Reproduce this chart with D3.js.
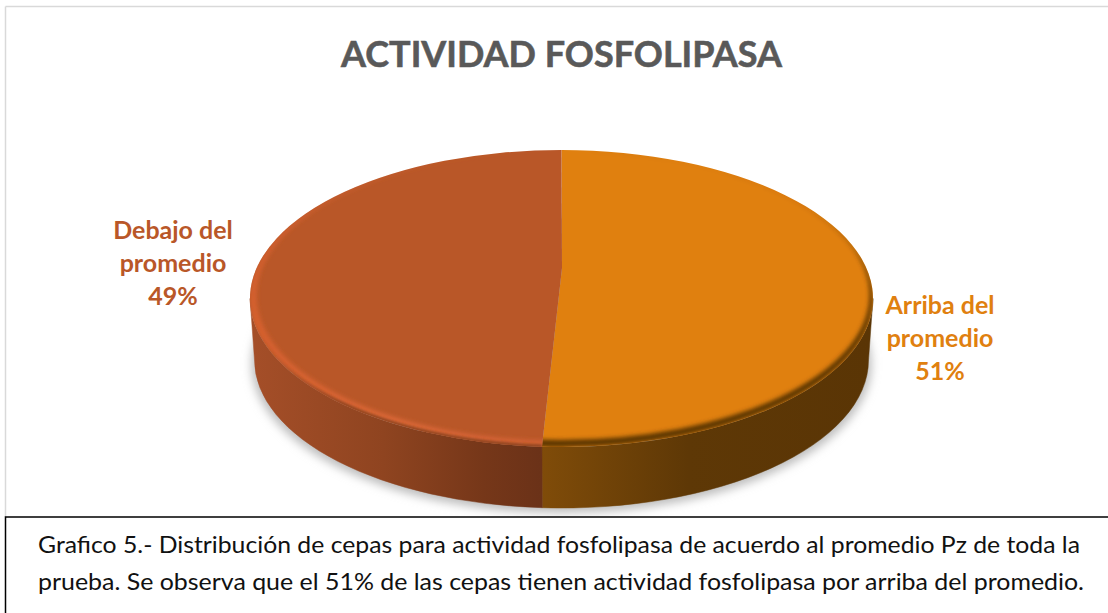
<!DOCTYPE html>
<html>
<head>
  <meta charset="utf-8">
  <title>Actividad fosfolipasa</title>
  <script src="https://d3js.org/d3.v7.min.js"></script>
  <style>
    html, body { margin: 0; padding: 0; background: #fff; overflow: hidden; }
    svg { display: block; }
    text { font-family: Lato, "Open Sans", sans-serif; }
  </style>
</head>
<body>
  <svg id="chart" width="1108" height="613"></svg>
  <script>
    // values
    const categories = ["Arriba del promedio", "Debajo del promedio"];
    const percents = [51, 49];
    const titleText = "ACTIVIDAD FOSFOLIPASA";
    const captionLines = [
      "Grafico 5.- Distribución de cepas para actividad fosfolipasa de acuerdo al promedio Pz de toda la",
      "prueba. Se observa que el 51% de las cepas tienen actividad fosfolipasa por arriba del promedio."
    ];
    const sliceColors = ["#e0800f", "#b95728"];

    const svg = d3.select("#chart");
    const defs = svg.append("defs");

    // top face and bottom edge of the disc
    const top_ = { cx: 561.5, cy: 298.5, rx: 311.5, ry: 148.5 };
    const bottom = { cx: 561.5, cy: 360, rx: 307, ry: 148 };
    const apex = [562, 268]; // the perspective moves the visual centre up

    const pie = d3.pie().sort(null).value(d => d);
    const arcs = pie(percents);

    const pt = (e, a) => [e.cx + e.rx * Math.sin(a), e.cy - e.ry * Math.cos(a)];

    function arcTo(e, a0, a1) {
      const p = pt(e, a1);
      const large = Math.abs(a1 - a0) > Math.PI ? 1 : 0;
      const sweep = a1 > a0 ? 1 : 0;
      return `A${e.rx},${e.ry} 0 ${large} ${sweep} ${p[0]},${p[1]}`;
    }
    const facePath = (a0, a1) => `M${apex}L${pt(top_, a0)}${arcTo(top_, a0, a1)}Z`;
    const edgePath = (e, a0, a1) => `M${pt(e, a0)}${arcTo(e, a0, a1)}`;
    const wallPath = (a0, a1) =>
      `M${pt(top_, a0)}${arcTo(top_, a0, a1)}L${pt(bottom, a1)}${arcTo(bottom, a1, a0)}Z`;

    // whole ellipse, for the ring between the edge and the flat part of the face
    const ringOf = e =>
      `M${e.cx - e.rx},${e.cy}A${e.rx},${e.ry} 0 1 1 ${e.cx + e.rx},${e.cy}A${e.rx},${e.ry} 0 1 1 ${e.cx - e.rx},${e.cy}Z`;

    function gradient(id, stops, x1, x2) {
      const g = defs.append("linearGradient").attr("id", id)
        .attr("gradientUnits", "userSpaceOnUse")
        .attr("x1", x1).attr("x2", x2).attr("y1", 0).attr("y2", 0);
      g.selectAll("stop").data(stops).join("stop")
        .attr("offset", d => d[0]).attr("stop-color", d => d[1])
        .attr("stop-opacity", d => d.length > 2 ? d[2] : 1);
    }
    function blur(id, sd) {
      defs.append("filter").attr("id", id)
        .attr("x", "-10%").attr("y", "-10%").attr("width", "120%").attr("height", "120%")
        .append("feGaussianBlur").attr("stdDeviation", sd);
    }
    blur("soft", 2);
    blur("softer", 5);
    blur("tiny", 1.2);

    gradient("wall0", [[0, "#804c09"], [0.45, "#5e3806"], [1, "#5a3505"]], 540, 870);
    gradient("wall1", [[0, "#a44e28"], [0.45, "#8f4420"], [0.8, "#763719"], [1, "#6b3218"]], 255, 540);
    gradient("rim1", [[0, "#d5602e"], [0.5, "#dd6838"], [1, "#d46236"]], 250, 540);
    gradient("rimDark", [[0, "#8f4420", 0], [0.3, "#8f4420", 0.85], [1, "#8f4420", 0.85]], 262, 540);

    arcs.forEach((d, i) => {
      defs.append("clipPath").attr("id", "face" + i)
        .append("path").attr("d", facePath(d.startAngle, d.endAngle));
    });

    // shadow under the disc
    svg.append("ellipse")
      .attr("cx", bottom.cx).attr("cy", bottom.cy + 4)
      .attr("rx", bottom.rx + 3).attr("ry", bottom.ry + 1)
      .attr("fill", "#bdbdbd").attr("filter", "url(#softer)");

    // side walls, only the front half shows
    const frontStart = Math.PI / 2, frontEnd = Math.PI * 1.5;
    svg.append("g").selectAll("path").data(arcs).join("path")
      .attr("d", d => wallPath(Math.max(d.startAngle, frontStart), Math.min(d.endAngle, frontEnd)))
      .attr("fill", (d, i) => `url(#wall${i})`)
      .attr("stroke", (d, i) => `url(#wall${i})`)
      .attr("stroke-width", 0.5);

    // top face
    svg.append("g").selectAll("path").data(arcs).join("path")
      .attr("d", d => facePath(d.startAngle, d.endAngle))
      .attr("fill", (d, i) => sliceColors[i]);

    // bevel: a crescent that tapers to nothing at the back of the disc
    const orangeFlat = { cx: top_.cx - 0.5, cy: top_.cy - 3.5, rx: top_.rx - 3, ry: top_.ry - 3.5 };
    const rustFlat = { cx: top_.cx + 0.5, cy: top_.cy - 3, rx: top_.rx - 6, ry: top_.ry - 3 };

    svg.append("g").attr("clip-path", "url(#face0)")
      .append("path")
      .attr("d", ringOf(top_) + ringOf(orangeFlat))
      .attr("fill-rule", "evenodd")
      .attr("fill", "#5a3505").attr("filter", "url(#soft)");

    const rust = svg.append("g").attr("clip-path", "url(#face1)");
    rust.append("path")
      .attr("d", ringOf(top_) + ringOf(rustFlat))
      .attr("fill-rule", "evenodd")
      .attr("fill", "url(#rim1)").attr("filter", "url(#soft)");
    // the rust rim darkens where it rolls over into the wall
    rust.append("path")
      .attr("d", edgePath(top_, arcs[1].startAngle, Math.PI * 1.5))
      .attr("fill", "none").attr("stroke", "url(#rimDark)")
      .attr("stroke-width", 5).attr("filter", "url(#tiny)");

    // title
    svg.append("text")
      .attr("x", 561.5).attr("y", 67)
      .attr("text-anchor", "middle")
      .attr("font-size", 37).attr("font-weight", 700)
      .attr("fill", "#595959").attr("stroke", "#595959").attr("stroke-width", 0.6)
      .attr("textLength", 441).attr("lengthAdjust", "spacingAndGlyphs")
      .text(titleText);

    // data labels
    const labelAt = [{ x: 940, y: 314 }, { x: 173, y: 239 }];
    svg.append("g").selectAll("text").data(arcs).join("text")
      .attr("text-anchor", "middle")
      .attr("font-size", 25).attr("font-weight", 700)
      .attr("fill", (d, i) => sliceColors[i])
      .each(function (d, i) {
        const words = categories[i].split(" ");
        const lines = [words.slice(0, 2).join(" "), words[2], d.value + "%"];
        d3.select(this).selectAll("tspan").data(lines).join("tspan")
          .attr("x", labelAt[i].x)
          .attr("y", (l, j) => labelAt[i].y + j * 33)
          .text(l => l);
      });

    // chart frame
    const frame = svg.append("g").attr("stroke", "#d9d9d9").attr("stroke-width", 1.5);
    frame.append("line").attr("x1", 5.5).attr("x2", 1108).attr("y1", 6.5).attr("y2", 6.5);
    frame.append("line").attr("x1", 5.5).attr("x2", 5.5).attr("y1", 6.5).attr("y2", 517);

    // caption box
    svg.append("rect")
      .attr("x", 5.5).attr("y", 517)
      .attr("width", 1110).attr("height", 110)
      .attr("fill", "#fff").attr("stroke", "#000").attr("stroke-width", 1.5);

    svg.append("g").selectAll("text").data(captionLines).join("text")
      .attr("x", 38)
      .attr("y", (d, i) => 553 + i * 37)
      .attr("font-size", 23).attr("fill", "#111")
      .attr("textLength", (d, i) => i === 0 ? 1042 : 1046)
      .attr("lengthAdjust", "spacingAndGlyphs")
      .text(d => d);
  </script>
</body>
</html>
